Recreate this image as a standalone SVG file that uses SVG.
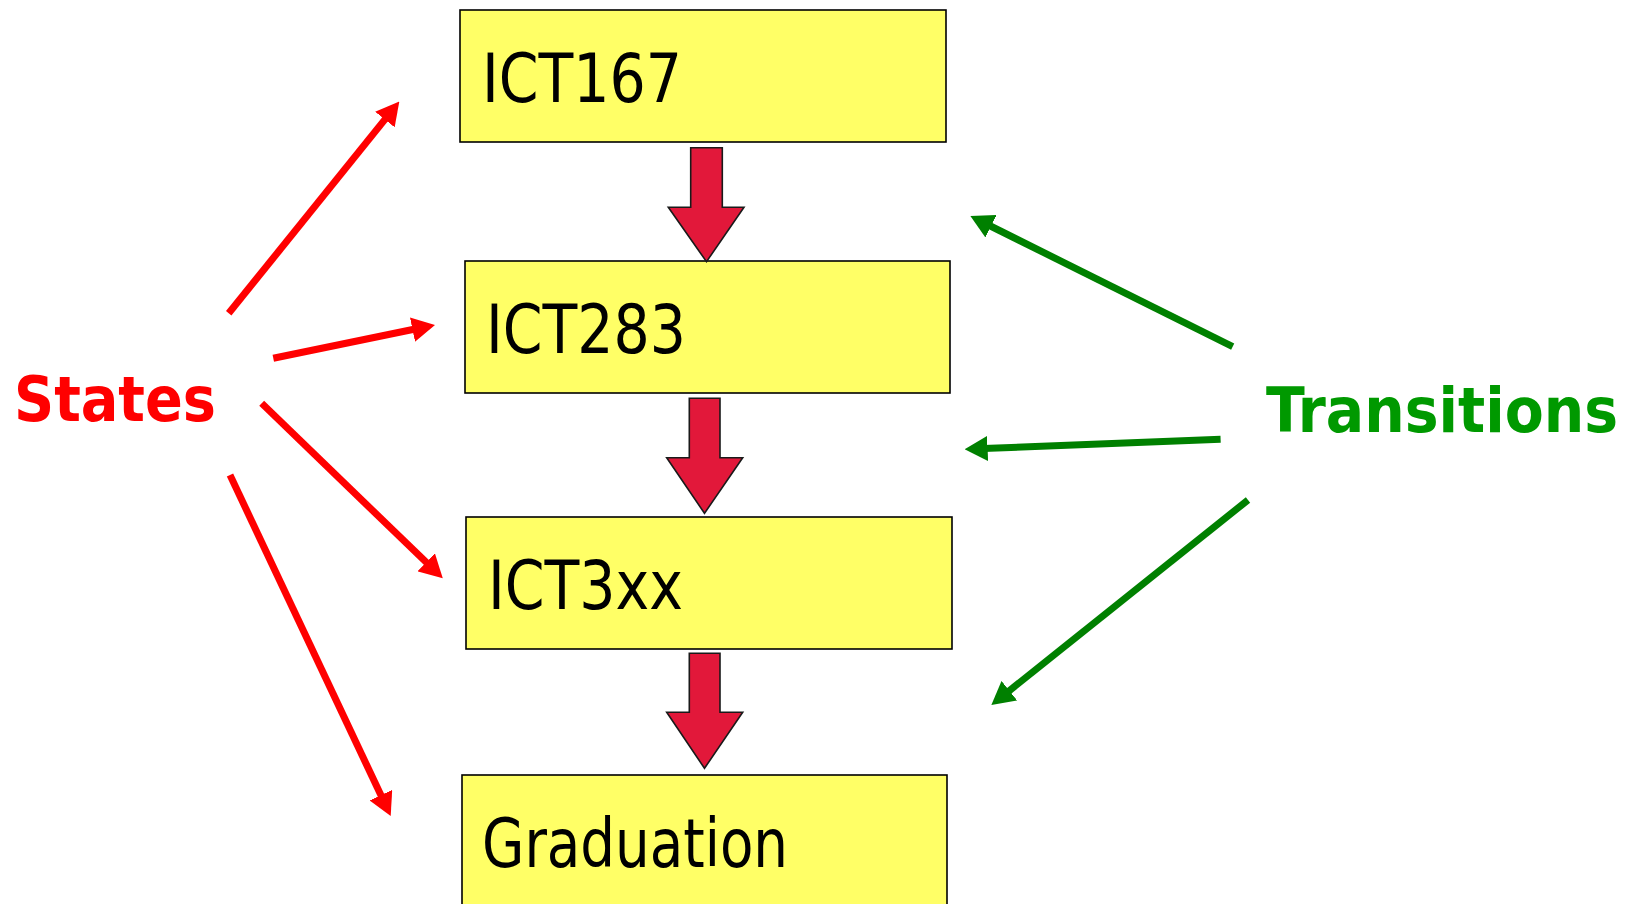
<svg xmlns="http://www.w3.org/2000/svg" width="1637" height="904" viewBox="0 0 1637 904">
  <style>
    .box { fill: #FFFF66; stroke: #000; stroke-width: 1.6; }
    .label { font-family: "DejaVu Sans Condensed", "DejaVu Sans", Verdana, sans-serif; font-stretch: condensed; font-size: 67px; fill: #000; }
    .flow { fill: #E2183A; stroke: #1a1a1a; stroke-width: 1.6; stroke-linejoin: miter; }
    .tag { font-family: "DejaVu Sans Condensed", "DejaVu Sans", Verdana, sans-serif; font-stretch: condensed; font-weight: bold; font-size: 63px; }
    .state-line { stroke: #FF0000; stroke-width: 7; fill: none; marker-end: url(#headRed); }
    .trans-line { stroke: #008000; stroke-width: 7; fill: none; marker-end: url(#headGreen); }
  </style>
  <defs>
    <marker id="headRed" markerUnits="userSpaceOnUse" viewBox="0 0 23 25" markerWidth="23" markerHeight="25" refX="4" refY="12.5" orient="auto">
      <path d="M0,0 L23,12.5 L0,25 z" fill="#FF0000"/>
    </marker>
    <marker id="headGreen" markerUnits="userSpaceOnUse" viewBox="0 0 23 25" markerWidth="23" markerHeight="25" refX="4" refY="12.5" orient="auto">
      <path d="M0,0 L23,12.5 L0,25 z" fill="#008000"/>
    </marker>
  </defs>

  <rect width="1637" height="904" fill="#fff"/>

  <!-- course states -->
  <g id="ict167">
    <rect class="box" x="460" y="10" width="486" height="132"/>
    <text class="label" x="482" y="102" textLength="200" lengthAdjust="spacingAndGlyphs">ICT167</text>
  </g>
  <g id="ict283">
    <rect class="box" x="465" y="261" width="485" height="132"/>
    <text class="label" x="486" y="353" textLength="200" lengthAdjust="spacingAndGlyphs">ICT283</text>
  </g>
  <g id="ict3xx">
    <rect class="box" x="466" y="517" width="486" height="132"/>
    <text class="label" x="488" y="609" textLength="195" lengthAdjust="spacingAndGlyphs">ICT3xx</text>
  </g>
  <g id="graduation">
    <rect class="box" x="462" y="775" width="485" height="140"/>
    <text class="label" x="482" y="867" textLength="306" lengthAdjust="spacingAndGlyphs">Graduation</text>
  </g>

  <!-- side labels -->
  <g id="states">
    <text class="tag" x="14" y="421" fill="#FF0000" textLength="202" lengthAdjust="spacingAndGlyphs">States</text>
  </g>
  <g id="transitions">
    <text class="tag" x="1266" y="432" fill="#009900" textLength="352" lengthAdjust="spacingAndGlyphs">Transitions</text>
  </g>

  <g id="connectors">
    <!-- block arrows between states -->
    <polygon class="flow" points="690.7,147.7 722.3,147.7 722.3,207.3 744,207.3 706.5,261.7 668.3,207.3 690.7,207.3"/>
    <polygon class="flow" points="689.3,398.3 720,398.3 720,457.7 742.7,457.7 704.5,513.3 666.7,457.7 689.3,457.7"/>
    <polygon class="flow" points="689.3,653.3 720,653.3 720,712.3 742.7,712.3 704.5,768.3 666.7,712.3 689.3,712.3"/>

    <!-- "States" pointers -->
    <line class="state-line" x1="228.7" y1="313.3" x2="387.4" y2="116.4"/>
    <line class="state-line" x1="273.3" y1="358.3" x2="416.4" y2="328.8"/>
    <line class="state-line" x1="261.7" y1="403.3" x2="429.1" y2="565.1"/>
    <line class="state-line" x1="230" y1="475" x2="382.6" y2="798.8"/>

    <!-- "Transitions" pointers -->
    <line class="trans-line" x1="1232.7" y1="346.7" x2="987.4" y2="224.5"/>
    <line class="trans-line" x1="1220.6" y1="439.3" x2="983.6" y2="448.6"/>
    <line class="trans-line" x1="1248" y1="500" x2="1006.2" y2="693.2"/>
  </g>
</svg>
